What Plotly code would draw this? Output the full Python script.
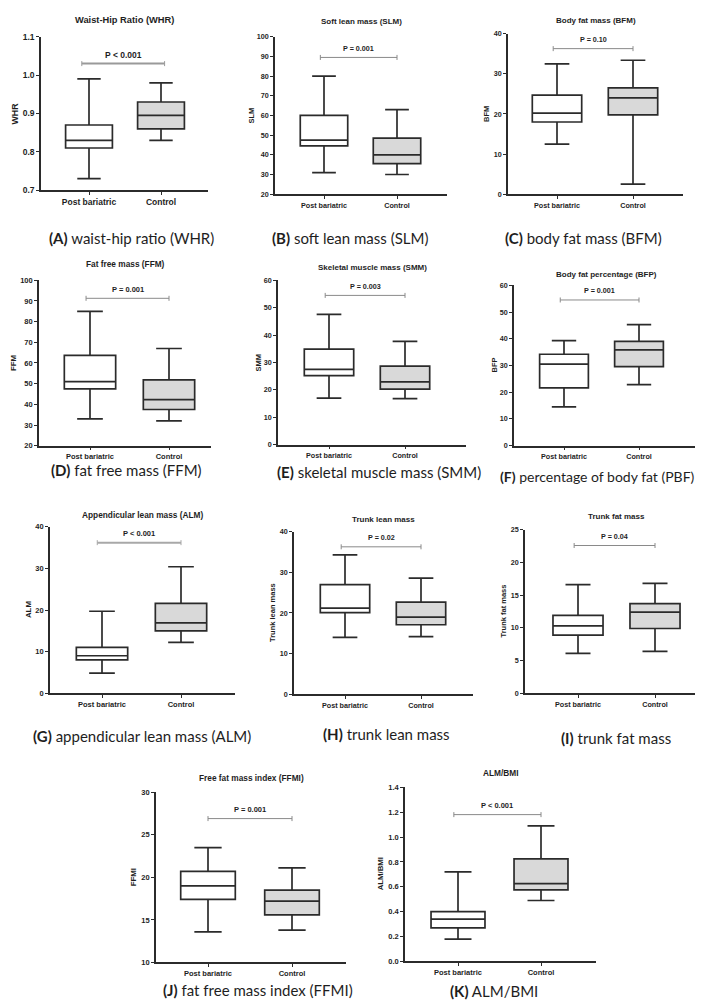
import plotly.graph_objects as go

# ---------------- data ----------------
panel_ids = ["A", "B", "C", "D", "E", "F", "G", "H", "I", "J", "K"]
titles = ["Waist-Hip Ratio (WHR)", "Soft lean mass (SLM)", "Body fat mass (BFM)",
          "Fat free mass (FFM)", "Skeletal muscle mass (SMM)", "Body fat percentage (BFP)",
          "Appendicular lean mass (ALM)", "Trunk lean mass", "Trunk fat mass",
          "Free fat mass index (FFMI)", "ALM/BMI"]
captions = ["waist-hip ratio (WHR)", "soft lean mass (SLM)", "body fat mass (BFM)",
            "fat free mass (FFM)", "skeletal muscle mass (SMM)", "percentage of body fat (PBF)",
            "appendicular lean mass (ALM)", "trunk lean mass", "trunk fat mass",
            "fat free mass index (FFMI)", "ALM/BMI"]
y_labels = ["WHR", "SLM", "BFM", "FFM", "SMM", "BFP", "ALM", "Trunk lean mass",
            "Trunk fat mass", "FFMI", "ALM/BMI"]
categories = ["Post bariatric", "Control"]

pb_min = [0.73, 31, 12.5, 33, 17.0, 14.5, 4.8, 14.0, 6.1, 13.6, 0.18]
pb_q1 = [0.81, 44.5, 18.0, 47.5, 25.2, 21.6, 8.0, 20.1, 8.9, 17.4, 0.27]
pb_med = [0.83, 47.5, 20.2, 51.0, 27.5, 30.5, 9.0, 21.2, 10.3, 19.0, 0.34]
pb_q3 = [0.87, 60.0, 24.7, 63.7, 34.9, 34.2, 11.0, 27.0, 11.9, 20.7, 0.40]
pb_max = [0.99, 80, 32.5, 85, 47.6, 39.3, 19.7, 34.3, 16.6, 23.5, 0.72]

ctl_min = [0.83, 30, 2.5, 32, 16.8, 22.8, 12.2, 14.2, 6.4, 13.8, 0.49]
ctl_q1 = [0.86, 35.5, 19.8, 37.5, 20.3, 29.6, 15.0, 17.1, 9.9, 15.6, 0.575]
ctl_med = [0.895, 40.0, 24.0, 42.3, 22.9, 35.8, 16.9, 19.0, 12.4, 17.2, 0.625]
ctl_q3 = [0.93, 48.5, 26.5, 51.8, 28.7, 39.0, 21.6, 22.7, 13.7, 18.5, 0.825]
ctl_max = [0.98, 63, 33.4, 67, 37.7, 45.3, 30.4, 28.6, 16.8, 21.1, 1.09]

p_texts = ["P < 0.001", "P = 0.001", "P = 0.10", "P = 0.001", "P = 0.003", "P = 0.001",
           "P < 0.001", "P = 0.02", "P = 0.04", "P = 0.001", "P < 0.001"]
p_y = [1.03, 89.5, 36.3, 91.3, 54.5, 54.5, 36.2, 36.3, 22.6, 26.9, 1.18]

y_min = [0.7, 20, 0, 20, 0, 0, 0, 0, 0, 10, 0.0]
y_max = [1.1, 100, 40, 100, 60, 60, 40, 40, 25, 30, 1.4]
y_step = [0.1, 10, 10, 10, 10, 10, 10, 10, 5, 5, 0.2]
y_fmt = [".1f", "d", "d", "d", "d", "d", "d", "d", "d", "d", ".1f"]

# ---------------- layout geometry (pixels) ----------------
W, H = 703, 1008
ax_left = [33, 267, 500, 31, 270, 506, 42, 286, 517, 148, 397]
ax_right = [200, 439, 675, 203, 458, 691, 227, 465, 700, 338, 588]
ax_top = [24, 24, 21, 270, 270, 275, 519, 524, 522, 787, 782]
ax_bot = [179, 183, 183, 437, 436, 437, 687, 688, 687, 959, 958]
cat0_px = [81, 316, 549, 82, 321, 556, 94, 337, 570, 200, 450]
cat1_px = [153, 389, 625, 161, 397, 631, 173, 413, 647, 284, 533]
title_y = [7, 9, 8, 254, 257, 264, 507, 512, 509, 773, 768]
ylab_x = [7, 243, 479, 6, 250, 486, 20, 265, 496, 125, 372]
cap_x = [123, 342, 575, 118, 371, 589, 134, 378, 608, 250, 486]
cap_y = [227, 227, 227, 462, 464, 468, 730, 728, 732, 987, 988]
cap_fs = [15, 15, 15, 15, 15, 14, 15, 15, 15, 15, 15]
fs = [8.5, 7.2, 7.2, 7.5, 7.2, 7.2, 7.5, 7.2, 7.2, 7.5, 7.5]
bar_x0 = [-0.1, -0.05, -0.05, -0.05, -0.05, -0.05, -0.06, -0.05, -0.05, 0.0, -0.05]
bar_x1 = [1.05, 1.0, 1.0, 1.0, 1.0, 1.0, 1.0, 1.0, 1.0, 1.0, 1.0]
bar_w = [2, 1, 1, 1, 1, 1, 2, 1, 1, 1, 1]
bar_c = ["#9a9a9a", "#8a8a8a", "#8a8a8a", "#8a8a8a", "#8a8a8a", "#8a8a8a",
         "#a8a8a8", "#8a8a8a", "#8a8a8a", "#8a8a8a", "#8a8a8a"]

INK = "#2b2b2b"
TXT = "#1e1e1e"
SANS = "Liberation Sans, Arial, sans-serif"

fig = go.Figure()
layout = dict(width=W, height=H, autosize=False, margin=dict(l=0, r=0, t=0, b=0),
              paper_bgcolor="white", plot_bgcolor="white", showlegend=False)
shapes, annotations = [], []

for i in range(len(panel_ids)):
    n = "" if i == 0 else str(i + 1)
    xa, ya = "x" + n, "y" + n
    sp = cat1_px[i] - cat0_px[i]
    xr = [(ax_left[i] - cat0_px[i]) / sp, 1 + (ax_right[i] - cat1_px[i]) / sp]
    xdom = [ax_left[i] / W, ax_right[i] / W]
    ydom = [1 - ax_bot[i] / H, 1 - ax_top[i] / H]

    for k, (lo, q1, md, q3, hi, fc) in enumerate([
            (pb_min, pb_q1, pb_med, pb_q3, pb_max, "white"),
            (ctl_min, ctl_q1, ctl_med, ctl_q3, ctl_max, "#d9d9d9")]):
        fig.add_trace(go.Box(
            x=[k], q1=[q1[i]], median=[md[i]], q3=[q3[i]],
            lowerfence=[lo[i]], upperfence=[hi[i]],
            width=0.65, whiskerwidth=0.5, fillcolor=fc,
            line=dict(color=INK, width=1.7), boxpoints=False,
            xaxis=xa, yaxis=ya, hoverinfo="skip"))

    tf = dict(family=SANS, size=fs[i], color=TXT, weight="bold")
    layout["xaxis" + n] = dict(
        domain=xdom, range=xr, anchor=ya, tickmode="array", tickvals=[0, 1],
        ticktext=categories, ticks="outside", ticklen=3, tickwidth=1.3, tickcolor=INK,
        showline=True, linecolor=INK, linewidth=1.6, showgrid=False, zeroline=False,
        tickfont=tf, fixedrange=True)
    layout["yaxis" + n] = dict(
        domain=ydom, range=[y_min[i], y_max[i]], anchor=xa, tick0=y_min[i],
        dtick=y_step[i], tickformat=y_fmt[i], ticks="outside", ticklen=3, tickwidth=1.3,
        tickcolor=INK, showline=True, linecolor=INK, linewidth=1.6, showgrid=False,
        zeroline=False, tickfont=tf, fixedrange=True)

    # p-value bracket
    shapes.append(dict(type="line", xref=xa, yref=ya, x0=bar_x0[i], x1=bar_x1[i],
                       y0=p_y[i], y1=p_y[i], line=dict(color=bar_c[i], width=bar_w[i])))
    for xe in (bar_x0[i], bar_x1[i]):
        shapes.append(dict(type="line", xref=xa, yref=ya, x0=xe, x1=xe,
                           ysizemode="pixel", yanchor=p_y[i], y0=-2.5, y1=2.5,
                           line=dict(color=bar_c[i], width=1)))
    annotations.append(dict(text=p_texts[i], xref=xa, yref=ya,
                            x=(bar_x0[i] + bar_x1[i]) / 2, y=p_y[i], yshift=9,
                            showarrow=False, font=tf, xanchor="center", yanchor="middle"))
    # panel title
    annotations.append(dict(text=titles[i], xref="paper", yref="paper",
                            x=(ax_left[i] + ax_right[i]) / 2 / W, y=1 - title_y[i] / H,
                            showarrow=False, xanchor="center", yanchor="middle",
                            font=dict(family=SANS, size=fs[i] + 0.8, color=TXT, weight="bold")))
    # y-axis label
    annotations.append(dict(text=y_labels[i], xref="paper", yref="paper",
                            x=ylab_x[i] / W, y=1 - (ax_top[i] + ax_bot[i]) / 2 / H,
                            textangle=-90, showarrow=False, xanchor="center", yanchor="middle",
                            font=dict(family=SANS, size=fs[i] + 0.3, color=TXT, weight="bold")))
    # caption
    annotations.append(dict(text="<b>(" + panel_ids[i] + ")</b> " + captions[i],
                            xref="paper", yref="paper", x=cap_x[i] / W, y=1 - cap_y[i] / H,
                            showarrow=False, xanchor="center", yanchor="middle",
                            font=dict(family="Lato, Open Sans, sans-serif", size=cap_fs[i],
                                      color=TXT)))

layout["shapes"] = shapes
layout["annotations"] = annotations
fig.update_layout(**layout)
fig.write_html("out.html")
